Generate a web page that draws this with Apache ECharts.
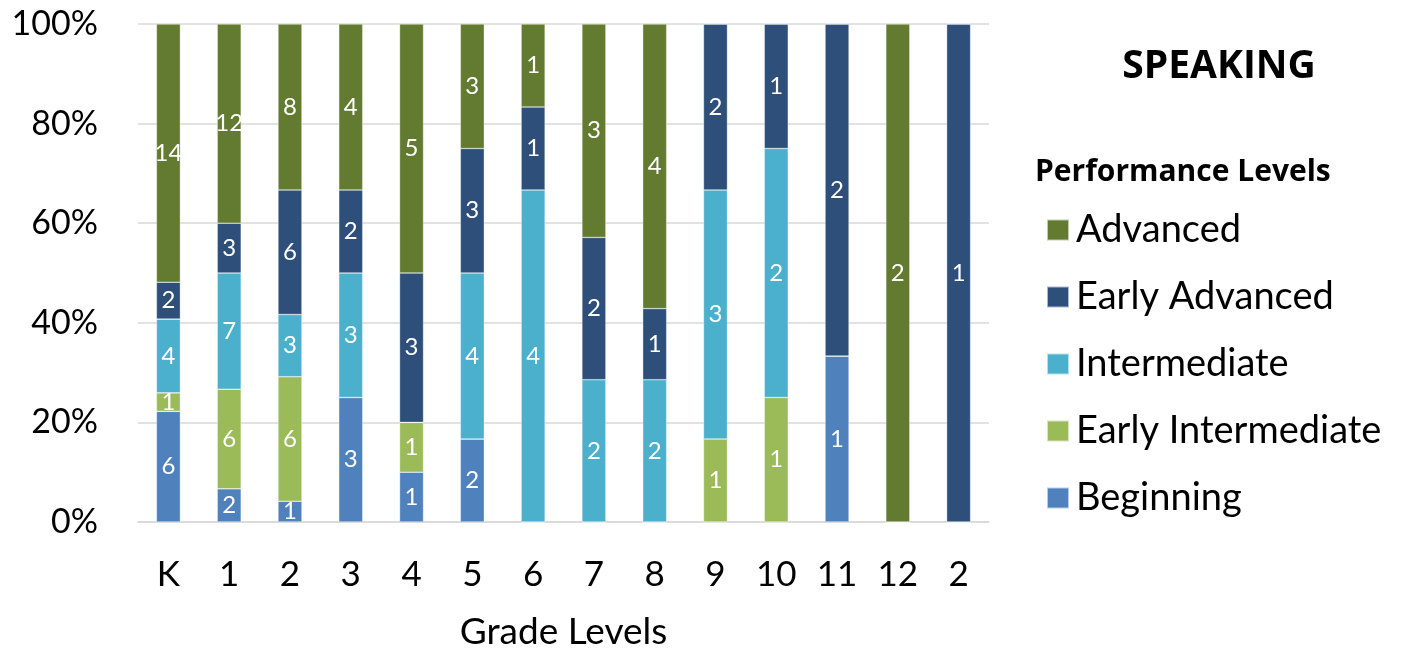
<!DOCTYPE html>
<html>
<head>
<meta charset="utf-8">
<script src="https://cdn.jsdelivr.net/npm/echarts@6/dist/echarts.min.js"></script>
<style>
html,body{margin:0;padding:0;background:#fff;}
#chart{width:1414px;height:653px;}
</style>
</head>
<body>
<div id="chart"></div>
<script>
const categories = ['K','1','2','3','4','5','6','7','8','9','10','11','12','2'];
const levelNames = ['Beginning','Early Intermediate','Intermediate','Early Advanced','Advanced'];
const beginning         = [6, 2, 1, 3, 1, 2, 0, 0, 0, 0, 0, 1, 0, 0];
const earlyIntermediate = [1, 6, 6, 0, 1, 0, 0, 0, 0, 1, 1, 0, 0, 0];
const intermediate      = [4, 7, 3, 3, 0, 4, 4, 2, 2, 3, 2, 0, 0, 0];
const earlyAdvanced     = [2, 3, 6, 2, 3, 3, 1, 2, 1, 2, 1, 2, 0, 1];
const advanced          = [14,12, 8, 4, 5, 3, 1, 3, 4, 0, 0, 0, 2, 0];
const yTicks = [0, 20, 40, 60, 80, 100];

const counts = [beginning, earlyIntermediate, intermediate, earlyAdvanced, advanced];
const colors = ['#4f81bd', '#9bbb59', '#4bb0cc', '#2d4f79', '#637a31'];
const totals = categories.map((c, i) => counts.reduce((s, arr) => s + arr[i], 0));

const series = counts.map((arr, k) => ({
  name: levelNames[k],
  type: 'bar',
  stack: 'total',
  barWidth: 24,
  itemStyle: { color: colors[k], borderColor: 'rgba(255,255,255,0.6)', borderWidth: 0.6 },
  label: {
    show: true,
    position: 'inside',
    color: '#ffffff',
    fontFamily: 'Lato',
    fontSize: 24,
    formatter: p => (arr[p.dataIndex] > 0 ? String(arr[p.dataIndex]) : '')
  },
  data: arr.map((v, i) => v / totals[i] * 100)
}));

const chart = echarts.init(document.getElementById('chart'));
chart.setOption({
  animation: false,
  backgroundColor: '#ffffff',
  title: [
    { text: 'SPEAKING', left: 1214, top: 42, textAlign: 'center',
      textStyle: { fontFamily: 'Open Sans', fontWeight: 'bold', fontSize: 39, color: '#000' } },
    { text: 'Performance Levels', left: 1030, top: 152,
      textStyle: { fontFamily: 'Open Sans', fontWeight: 'bold', fontSize: 30, color: '#000' } }
  ],
  legend: {
    orient: 'vertical',
    left: 1041,
    top: 205,
    itemWidth: 22,
    itemHeight: 21,
    itemGap: 27,
    icon: 'rect',
    data: ['Advanced','Early Advanced','Intermediate','Early Intermediate','Beginning'],
    textStyle: { fontFamily: 'Lato', fontSize: 38, color: '#000', lineHeight: 40, padding: [0,0,0,2] }
  },
  grid: { left: 138, right: 425, top: 24, bottom: 131, outerBoundsMode: 'none', containLabel: false },
  xAxis: {
    type: 'category',
    data: categories,
    name: 'Grade Levels',
    nameLocation: 'middle',
    nameGap: 92,
    nameTextStyle: { fontFamily: 'Lato', fontSize: 37, color: '#000' },
    axisLine: { lineStyle: { color: '#d9d9d9', width: 1.5 } },
    axisTick: { show: false },
    axisLabel: { fontFamily: 'Lato', fontSize: 35, color: '#000', margin: 35 }
  },
  yAxis: {
    type: 'value',
    min: yTicks[0],
    max: yTicks[yTicks.length - 1],
    interval: 20,
    axisLine: { show: false },
    axisTick: { show: false },
    splitLine: { lineStyle: { color: '#d9d9d9', width: 1.5 } },
    axisLabel: { fontFamily: 'Lato', fontSize: 34, color: '#000', margin: 40, formatter: '{value}%' }
  },
  series: series
});
</script>
</body>
</html>
